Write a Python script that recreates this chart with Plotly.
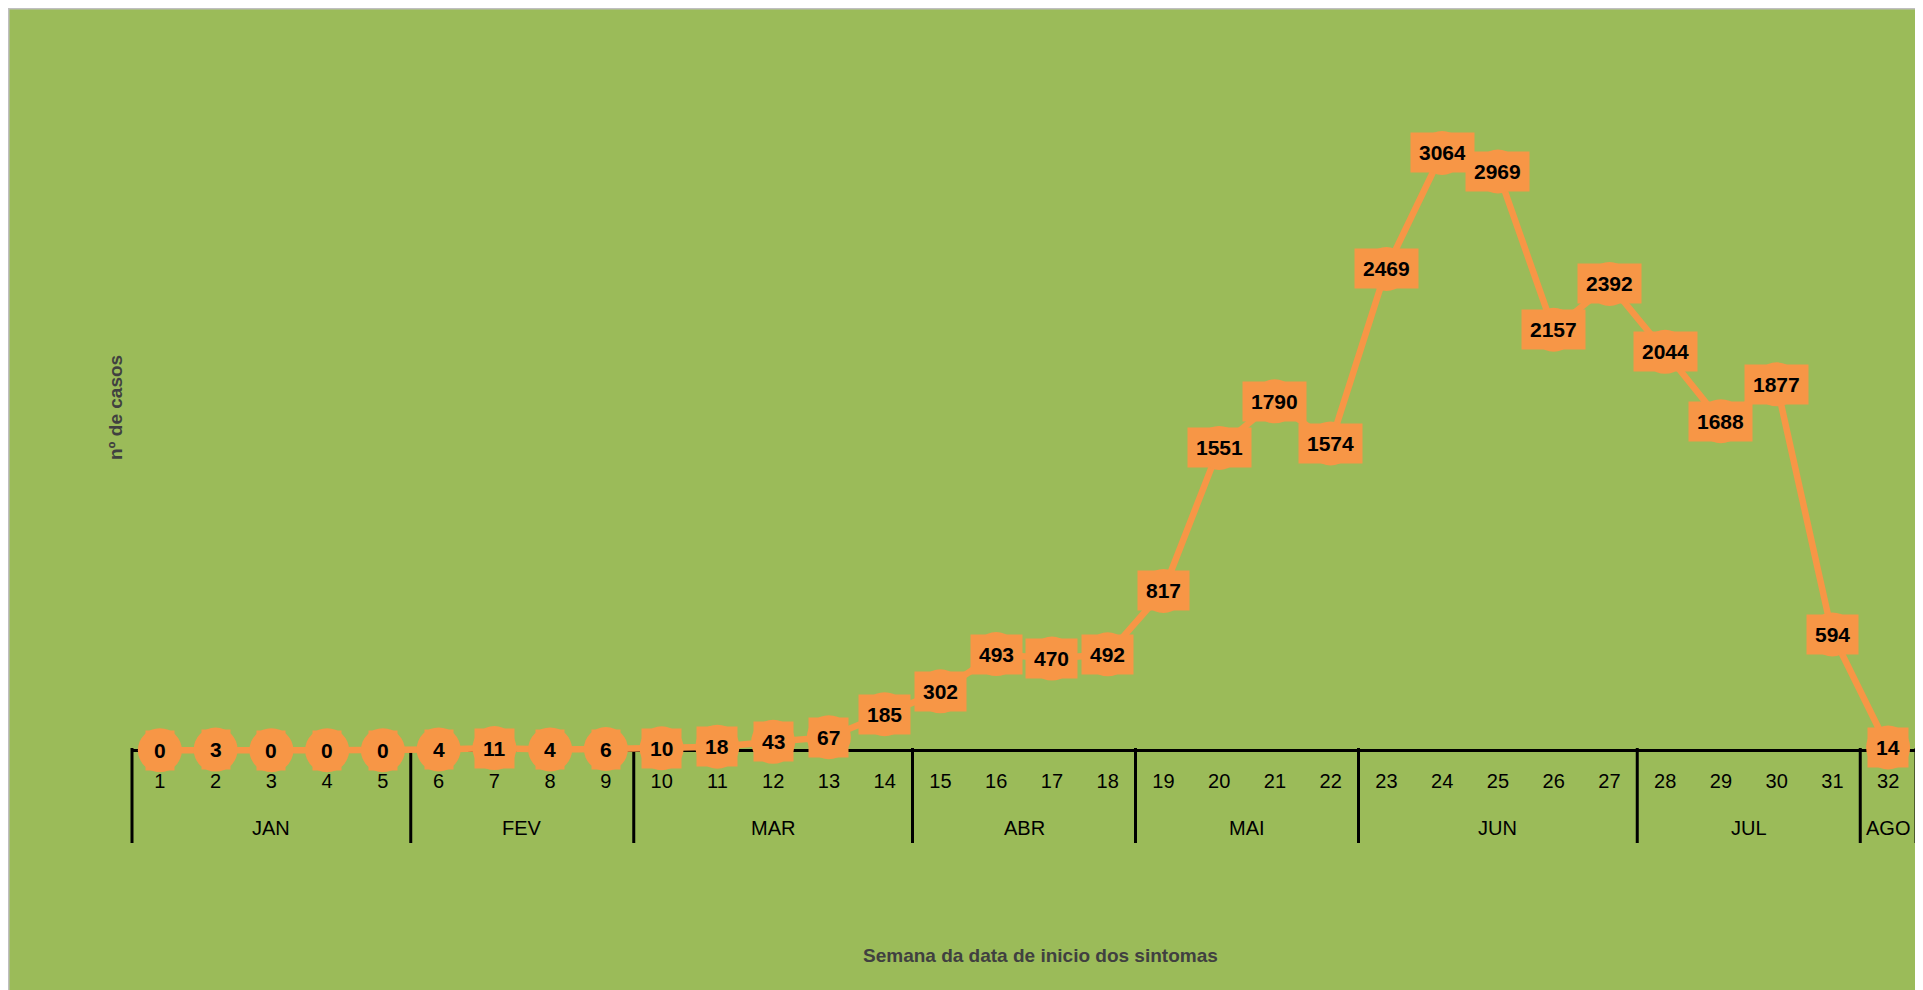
import plotly.graph_objects as go

# Weekly case counts (semana epidemiológica 1-32)
WEEKS = list(range(1, 33))
CASES = [0, 3, 0, 0, 0, 4, 11, 4, 6, 10, 18, 43, 67, 185, 302, 493, 470, 492,
         817, 1551, 1790, 1574, 2469, 3064, 2969, 2157, 2392, 2044, 1688, 1877, 594, 14]

MONTHS = ["JAN", "FEV", "MAR", "ABR", "MAI", "JUN", "JUL", "AGO"]
MONTH_FIRST_WEEK = [1, 6, 10, 15, 19, 23, 28, 32]
MONTH_LAST_WEEK = [5, 9, 14, 18, 22, 27, 31, 32]

GREEN = "#9BBB59"
ORANGE = "#F79646"
FONT = "Liberation Sans, Arial, sans-serif"

# the html body adds an 8px margin, so work in page pixels and shift
OFFSET = 8
W, H = 1923 - OFFSET, 990 - OFFSET
LEFT, RIGHT, TOP, BOTTOM = 132 - OFFSET, 1916 - OFFSET, 68 - OFFSET, 758 - OFFSET
X_RANGE = [0.5, 32.5]
Y_RANGE = [-40, 3500]  # a little room below zero so the line at 0 isn't clipped


def px_x(px):
    # page pixel -> paper fraction
    return (px - OFFSET - LEFT) / (RIGHT - LEFT)


def px_y(py):
    return (BOTTOM - (py - OFFSET)) / (BOTTOM - TOP)


def week_x(w):
    return (w - X_RANGE[0]) / (X_RANGE[1] - X_RANGE[0])


fig = go.Figure()
fig.add_trace(go.Scatter(
    x=WEEKS,
    y=CASES,
    mode="lines+markers",
    line=dict(color=ORANGE, width=6.5),
    marker=dict(size=44, color=ORANGE, symbol="circle"),
    cliponaxis=False,
    hoverinfo="x+y",
))

shapes = [dict(
    type="rect", xref="paper", yref="paper",
    x0=px_x(OFFSET + 0.5), x1=px_x(1916), y0=px_y(1010), y1=px_y(OFFSET + 0.5),
    fillcolor=GREEN, line=dict(color="#BFBFBF", width=2), layer="below",
)]

# month separators below the axis
bounds = [MONTH_FIRST_WEEK[0] - 0.5] + [w + 0.5 for w in MONTH_LAST_WEEK]
for b in bounds:
    shapes.append(dict(
        type="line", xref="paper", yref="paper",
        x0=week_x(b), x1=week_x(b), y0=px_y(748), y1=px_y(843),
        line=dict(color="black", width=3), layer="below",
    ))

annotations = []
for w, c in zip(WEEKS, CASES):
    annotations.append(dict(
        x=w, y=c, xref="x", yref="y", text=str(c), showarrow=False,
        xanchor="center", yanchor="middle",
        font=dict(family=FONT, size=21, color="black", weight="bold"),
        bgcolor=ORANGE, borderpad=8,
    ))

for name, first, last in zip(MONTHS, MONTH_FIRST_WEEK, MONTH_LAST_WEEK):
    annotations.append(dict(
        x=(first + last) / 2, y=px_y(828), xref="x", yref="paper",
        text=name, showarrow=False, xanchor="center", yanchor="middle",
        font=dict(family=FONT, size=20, color="black"),
    ))

annotations.append(dict(
    x=px_x(115), y=px_y(408), xref="paper", yref="paper",
    text="nº de casos", textangle=-90, showarrow=False,
    xanchor="center", yanchor="middle",
    font=dict(family=FONT, size=19, color="#404040", weight="bold"),
))
annotations.append(dict(
    x=px_x(1040), y=px_y(955), xref="paper", yref="paper",
    text="Semana da data de inicio dos sintomas", showarrow=False,
    xanchor="center", yanchor="middle",
    font=dict(family=FONT, size=19, color="#404040", weight="bold"),
))

fig.update_layout(
    width=W,
    height=H,
    margin=dict(l=LEFT, r=W - RIGHT, t=TOP, b=H - BOTTOM),
    paper_bgcolor="white",
    plot_bgcolor="rgba(0,0,0,0)",
    showlegend=False,
    shapes=shapes,
    annotations=annotations,
    font=dict(family=FONT),
)
fig.update_xaxes(
    range=X_RANGE,
    tickvals=WEEKS,
    ticktext=[str(w) for w in WEEKS],
    tickfont=dict(family=FONT, size=20, color="black"),
    ticks="",
    ticklabelstandoff=9,
    showline=False,
    showgrid=False, zeroline=False,
)
# the horizontal axis line is the y zero line, drawn beneath the trace
fig.update_yaxes(
    range=Y_RANGE, showticklabels=False, ticks="", showgrid=False, showline=False,
    zeroline=True, zerolinecolor="black", zerolinewidth=3,
)

fig.write_html("out.html")
